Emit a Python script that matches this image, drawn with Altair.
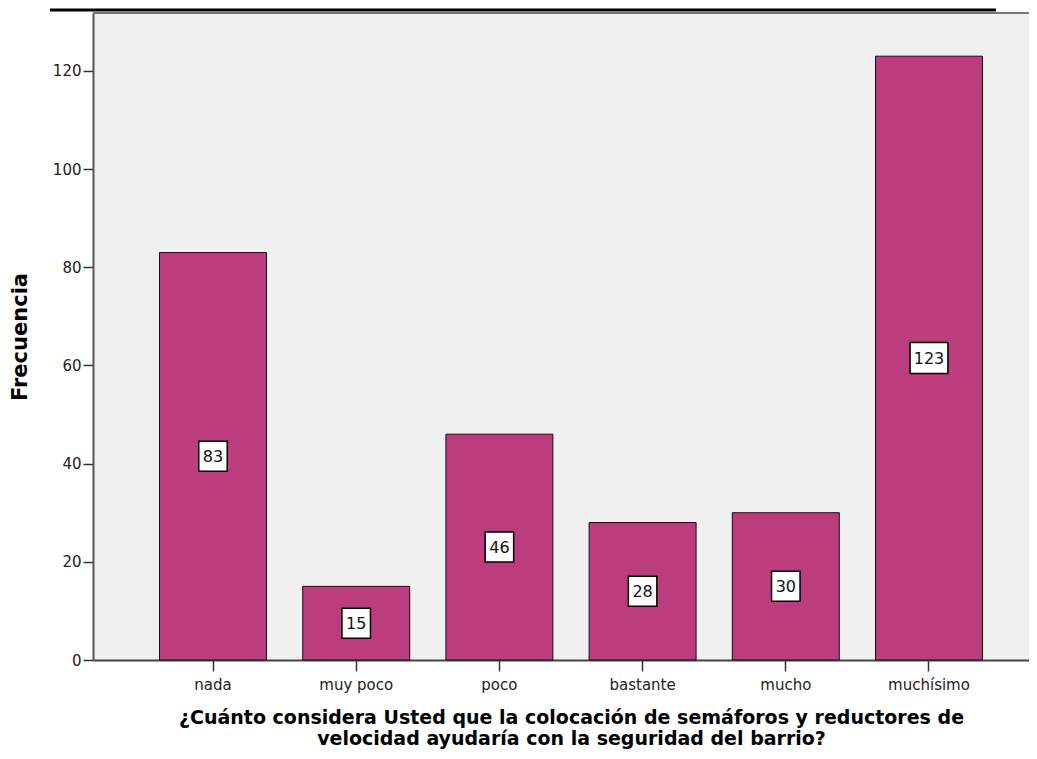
import altair as alt
import pandas as pd

categories = ["nada", "muy poco", "poco", "bastante", "mucho", "muchísimo"]
counts = [83, 15, 46, 28, 30, 123]
y_ticks = [0, 20, 40, 60, 80, 100, 120]
x_title = ["¿Cuánto considera Usted que la colocación de semáforos y reductores de",
           "velocidad ayudaría con la seguridad del barrio?"]
y_title = "Frecuencia"

df = pd.DataFrame({"cat": categories, "value": counts})
df["mid"] = df["value"] / 2

FONT = "DejaVu Sans"
W, H = 936, 647

x_enc = alt.X(
    "cat:N", sort=categories,
    scale=alt.Scale(paddingInner=0.253, paddingOuter=0.3947, align=0.5885),
    axis=alt.Axis(
        title=x_title, labelAngle=0, labelFont=FONT, labelFontSize=15, labelColor="#222",
        labelPadding=6, tickSize=11, tickColor="#333", tickWidth=1.5,
        domainColor="#444", domainWidth=2,
        titleFont=FONT, titleFontSize=19, titleFontWeight="bold", titleColor="#000",
        titleLineHeight=21, titleX=478, titleY=48, titleAlign="center",
        titleBaseline="top", titleAnchor="start",
    ),
)
y_scale = alt.Scale(domain=[0, 131.8], nice=False, zero=True)

bars = alt.Chart(df).mark_bar(color="#BB3D7B", stroke="#111", strokeWidth=1).encode(
    x=x_enc,
    y=alt.Y("value:Q", scale=y_scale, axis=alt.Axis(
        title=y_title, values=y_ticks, grid=False, labelFont=FONT, labelFontSize=15,
        labelColor="#222", labelPadding=2, tickSize=10, tickColor="#333", tickWidth=1.5,
        domainColor="#555", domainWidth=2,
        titleFont=FONT, titleFontSize=21, titleFontWeight="bold",
        titleColor="#000", titleX=-73, titleY=H / 2, titleAngle=-90,
        titleBaseline="middle", titleAlign="center", titleAnchor="start",
    )),
)

box2 = alt.Chart(df).transform_filter(alt.datum.value < 100).mark_point(
    shape="M-0.95,-1H0.95V1H-0.95Z", size=900, filled=True, fill="white", stroke="#000",
    strokeWidth=1.5, opacity=1,
).encode(x=alt.X("cat:N", sort=categories), y=alt.Y("mid:Q", scale=y_scale))

box3 = alt.Chart(df).transform_filter(alt.datum.value >= 100).mark_point(
    shape="M-1.22,-1H1.22V1H-1.22Z", size=961, filled=True, fill="white",
    stroke="#000", strokeWidth=1.5, opacity=1,
).encode(x=alt.X("cat:N", sort=categories), y=alt.Y("mid:Q", scale=y_scale))

texts = alt.Chart(df).mark_text(
    font=FONT, fontSize=16, color="#111", baseline="middle", dy=1
).encode(
    x=alt.X("cat:N", sort=categories), y=alt.Y("mid:Q", scale=y_scale),
    text=alt.Text("value:Q"),
)

one = alt.Data(values=[{"k": 1}])
top_rule = alt.Chart(one).mark_rule(color="#777", strokeWidth=2).encode(
    x=alt.value(0), x2=alt.value(W), y=alt.value(0)
)
underline = alt.Chart(one).mark_rule(color="#000", strokeWidth=3).encode(
    x=alt.value(-43), x2=alt.value(903), y=alt.value(-3)
)

chart = alt.layer(bars, box2, box3, texts, top_rule, underline).properties(
    width=W, height=H,
    autosize=alt.AutoSizeParams(type="none"),
    padding={"left": 85, "top": 5, "right": 0, "bottom": 90},
).configure_view(stroke=None, fill="#F0F0F0")

chart.save("out.html", embed_options={"renderer": "svg", "actions": False})
